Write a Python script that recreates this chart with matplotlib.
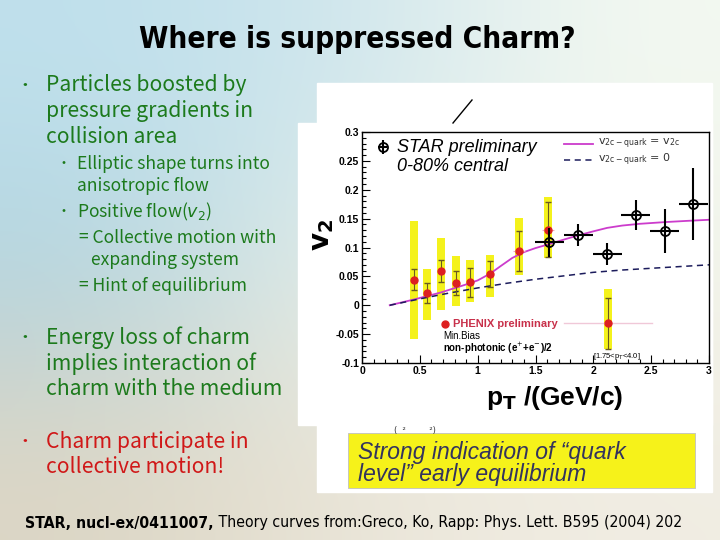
import numpy as np
import matplotlib.pyplot as plt
from matplotlib import font_manager as fm
from matplotlib.ticker import MultipleLocator
from matplotlib.patches import Rectangle
from matplotlib.lines import Line2D
from matplotlib.colors import to_rgb

# PHENIX preliminary, non-photonic electrons (min. bias)
phenix_pt = [0.447, 0.562, 0.684, 0.81, 0.935, 1.11, 1.358, 1.609, 2.126]
phenix_v2 = [0.044, 0.021, 0.059, 0.039, 0.040, 0.054, 0.094, 0.131, -0.031]
phenix_stat = [0.018, 0.017, 0.019, 0.021, 0.025, 0.022, 0.035, 0.047, 0.044]
phenix_sys_lo = [-0.058, -0.025, -0.008, -0.002, 0.006, 0.015, 0.053, 0.081, -0.075]
phenix_sys_hi = [0.146, 0.063, 0.117, 0.085, 0.079, 0.087, 0.151, 0.187, 0.029]
phenix_xerr = [0, 0, 0, 0, 0, 0, 0.05, 0.05, 0]
phenix_last_bin = [1.745, 2.51]

# STAR preliminary 0-80% central
star_pt = [1.62, 1.87, 2.12, 2.368, 2.616, 2.864]
star_v2 = [0.109, 0.122, 0.088, 0.156, 0.129, 0.175]
star_yerr = [0.025, 0.019, 0.019, 0.026, 0.038, 0.062]
star_xerr = [0.125, 0.125, 0.125, 0.125, 0.125, 0.125]

# Greco, Ko, Rapp curves
coal_pt = [0.24, 0.45, 0.68, 0.90, 1.00, 1.11, 1.20, 1.30, 1.40, 1.50, 1.62,
           1.75, 1.87, 2.00, 2.12, 2.25, 2.40, 2.62, 2.80, 3.00]
coal_v2 = [0.000, 0.010, 0.022, 0.036, 0.043, 0.055, 0.068, 0.082, 0.092, 0.099, 0.106,
           0.114, 0.121, 0.128, 0.134, 0.138, 0.141, 0.144, 0.146, 0.148]
zero_pt = [0.24, 0.5, 0.75, 1.0, 1.25, 1.5, 1.75, 2.0, 2.25, 2.5, 2.75, 3.0]
zero_v2 = [0.000, 0.011, 0.021, 0.030, 0.038, 0.045, 0.051, 0.057, 0.061, 0.064, 0.067, 0.070]

x_ticks = [0, 0.5, 1, 1.5, 2, 2.5, 3]
x_labels = ["0", "0.5", "1", "1.5", "2", "2.5", "3"]
y_ticks = [-0.1, -0.05, 0, 0.05, 0.1, 0.15, 0.2, 0.25, 0.3]
y_labels = ["-0.1", "-0.05", "0", "0.05", "0.1", "0.15", "0.2", "0.25", "0.3"]

# background colours of the slide (3x3, smoothed)
bg_colors = [["#bfe0ec", "#d0e6ed", "#f4f9f1"],
             ["#b0d3df", "#ecf2ea", "#f2f4ea"],
             ["#ddd6c4", "#ebe6d9", "#f1ede3"]]

green = "#1c7a1c"
red = "#d01818"
W, H = 720, 540


def narrow_font(bold):
    # a condensed / narrow face if one is installed
    found = []
    for f in fm.fontManager.ttflist:
        name = f.fname.lower()
        if not ("narrow" in name or "condensed" in name):
            continue
        if "italic" in name or "oblique" in name:
            continue
        if ("bold" in name) != bold:
            continue
        rank = 0 if "liberation" in name else (1 if "dejavu" in name else 2)
        found.append((rank, f.fname))
    if found:
        return fm.FontProperties(fname=sorted(found)[0][1])
    return fm.FontProperties(family="Liberation Sans", weight="bold" if bold else "normal")


fig = plt.figure(figsize=(7.2, 5.4), dpi=100)
renderer = fig.canvas.get_renderer()


def fit_width(texts, target):
    w = sum(t.get_window_extent(renderer).width for t in texts)
    for t in texts:
        t.set_fontsize(t.get_fontsize() * target / w)


bg = fig.add_axes([0, 0, 1, 1])
bg.imshow(np.array([[to_rgb(c) for c in row] for row in bg_colors]),
          extent=[0, 1, 0, 1], interpolation="bicubic", aspect="auto")
bg.set_xlim(0, 1)
bg.set_ylim(0, 1)
bg.axis("off")


def px(x, y):
    return x / W, 1 - y / H


# white panels behind the chart
for (x0, y0, x1, y1) in [(317, 83, 712, 492), (298, 123, 712, 425)]:
    fig.patches.append(Rectangle(px(x0, y1), (x1 - x0) / W, (y1 - y0) / H,
                                 transform=fig.transFigure, color="white", zorder=1))
fig.lines.append(Line2D([453 / W, 472 / W], [1 - 123 / H, 1 - 100 / H],
                        transform=fig.transFigure, color="black", lw=1, zorder=2))
fig.text(394 / W, 1 - 431 / H, "(  \u00b2         \u00b2)", fontsize=6, va="center",
         color="#333333", zorder=2)

# yellow box
fig.patches.append(Rectangle(px(348, 488), 347 / W, 55 / H, transform=fig.transFigure,
                             facecolor="#f6f21a", edgecolor="#c0c0c0", lw=0.6, zorder=2))
fig.text(358 / W, 1 - 452 / H, "Strong indication of \u201cquark", fontsize=16.5,
         style="italic", color="#33335e", va="center", family="Liberation Sans", zorder=3)
fig.text(358 / W, 1 - 474 / H, "level\u201d early equilibrium", fontsize=16.5,
         style="italic", color="#33335e", va="center", family="Liberation Sans", zorder=3)

# title
title = fig.text(357 / W, 1 - 40 / H, "Where is suppressed Charm?", ha="center",
                 va="center", fontproperties=narrow_font(True))
title.set_fontsize(26)
fit_width([title], 436)

# left bullets
jp = "Noto Sans CJK JP"
big = [(85, "Particles boosted by", True), (111, "pressure gradients in", False),
       (137, "collision area", False),
       (338, "Energy loss of charm", True), (364, "implies interaction of", False),
       (389, "charm with the medium", False)]
for y, s, b in big:
    if b:
        fig.text(16 / W, 1 - y / H, "\u30fb", fontsize=12, color=green, va="center", family=jp)
    fig.text(46 / W, 1 - y / H, s, fontsize=15.2, color=green, va="center", family=jp)
for y, s, b in [(442, "Charm participate in", True), (467, "collective motion!", False)]:
    if b:
        fig.text(16 / W, 1 - y / H, "\u30fb", fontsize=12, color=red, va="center", family=jp)
    fig.text(46 / W, 1 - y / H, s, fontsize=15.2, color=red, va="center", family=jp)
small = [(164, 56, 77, "Elliptic shape turns into", True),
         (186, 56, 77, "anisotropic flow", False),
         (212, 56, 77, "Positive flow($v_2$)", True),
         (238, 56, 79, "= Collective motion with", False),
         (260, 56, 91, "expanding system", False),
         (286, 56, 79, "= Hint of equilibrium", False)]
for y, xb, xt, s, b in small:
    if b:
        fig.text(xb / W, 1 - y / H, "\u30fb", fontsize=10, color=green, va="center", family=jp)
    fig.text(xt / W, 1 - y / H, s, fontsize=12.6, color=green, va="center", family=jp)

# reference line at the bottom
t1 = fig.text(25 / W, 1 - 523 / H, "STAR, nucl-ex/0411007,", va="center",
              fontproperties=narrow_font(True))
t1.set_fontsize(13)
bottom_ax = fig.add_axes([0, 0, 1, 1], facecolor="none")
bottom_ax.axis("off")
t2 = bottom_ax.annotate(" Theory curves from:Greco, Ko, Rapp: Phys. Lett. B595 (2004) 202",
                        xy=(1, 0.5), xycoords=t1, va="center",
                        fontproperties=narrow_font(False))
t2.set_fontsize(13)
fit_width([t1, t2], 654)

# the v2 chart
ax = fig.add_axes([362 / W, 1 - 363 / H, 347 / W, 231 / H])
ax.set_zorder(5)
yellow = "#f4f21c"
ax.bar(phenix_pt, np.array(phenix_sys_hi) - np.array(phenix_sys_lo), bottom=phenix_sys_lo,
       width=0.07, color=yellow, zorder=1)
ax.plot(coal_pt, coal_v2, color="#cc3ccc", lw=1.3, zorder=2)
ax.plot(zero_pt, zero_v2, color="#1c1c5c", lw=1.1, ls=(0, (4, 3)), zorder=2)
ax.plot(phenix_last_bin, [phenix_v2[-1]] * 2, color="#f0c8d8", lw=1, zorder=2)
ax.errorbar(phenix_pt, phenix_v2, xerr=phenix_xerr, fmt="none", ecolor="#f0a8b8",
            elinewidth=0.8, capsize=0, zorder=2)
ax.errorbar(phenix_pt, phenix_v2, yerr=phenix_stat, fmt="o",
            color="#dd2020", ms=5, ecolor="#6a5a20", elinewidth=0.8, capsize=2, zorder=3)
ax.errorbar(star_pt, star_v2, yerr=star_yerr, xerr=star_xerr, fmt="o", mfc="none",
            mec="black", ms=6.5, mew=1.3, ecolor="black", elinewidth=1.5, capsize=0, zorder=4)

ax.xaxis.set_minor_locator(MultipleLocator(0.1))
ax.yaxis.set_minor_locator(MultipleLocator(0.01))
ax.set_xticks(x_ticks)
ax.set_xticklabels(x_labels, fontweight="bold", family="Liberation Sans")
ax.set_yticks(y_ticks)
ax.set_yticklabels(y_labels, fontweight="bold", family="Liberation Sans")
ax.tick_params(which="both", direction="in", top=False, right=False, labelsize=7.5,
               width=0.8, pad=2)
ax.tick_params(which="major", length=6)
ax.tick_params(which="minor", length=3)
ax.set_xlim(0, 3)
ax.set_ylim(-0.1, 0.3)
for s in ax.spines.values():
    s.set_linewidth(1)

# legends inside the chart
ax.errorbar([0.18], [0.274], xerr=[0.04], yerr=[0.012], fmt="o", mfc="none", mec="black",
            ms=6.5, mew=1.3, ecolor="black", elinewidth=1.5, zorder=4)
ax.text(0.3, 0.274, "STAR preliminary", fontsize=13, style="italic", va="center",
        family="Liberation Sans")
ax.text(0.3, 0.24, "0-80% central", fontsize=13, style="italic", va="center",
        family="Liberation Sans")
ax.plot([1.75, 2.0], [0.28, 0.28], color="#cc3ccc", lw=1.3)
ax.plot([1.75, 2.0], [0.251, 0.251], color="#1c1c5c", lw=1.1, ls=(0, (4, 3)))
ax.text(2.04, 0.28, r"v$_{\rm 2c-quark}$ = v$_{\rm 2c}$", fontsize=8, color="#333333",
        va="center")
ax.text(2.04, 0.251, r"v$_{\rm 2c-quark}$ = 0", fontsize=8, color="#333333", va="center")
ax.plot([0.72], [-0.032], "o", color="#dd2020", ms=5)
ax.text(0.79, -0.033, "PHENIX preliminary", fontsize=8, weight="bold", color="#c8304a",
        va="center", family="Liberation Sans")
ax.text(0.7, -0.053, "Min.Bias", fontsize=7, va="center", family="Liberation Sans")
ax.text(0.7, -0.075, r"non-photonic (e$^{+}$+e$^{-}$)/2", fontsize=7, weight="bold",
        va="center", family="Liberation Sans")
ax.text(2.0, -0.088, r"[1.75<p$_T$<4.0]", fontsize=5.5, va="center", family="Liberation Sans")

fig.text(322 / W, 1 - 235 / H, r"$\mathbf{v_2}$", fontsize=20, rotation=90, ha="center",
         va="center", zorder=6)
fig.text(555 / W, 1 - 398 / H, r"p$_{\mathbf{T}}$ /(GeV/c)", fontsize=19, weight="bold",
         ha="center", va="center", family="Liberation Sans", zorder=6)

fig.savefig("out.png", dpi=100)
